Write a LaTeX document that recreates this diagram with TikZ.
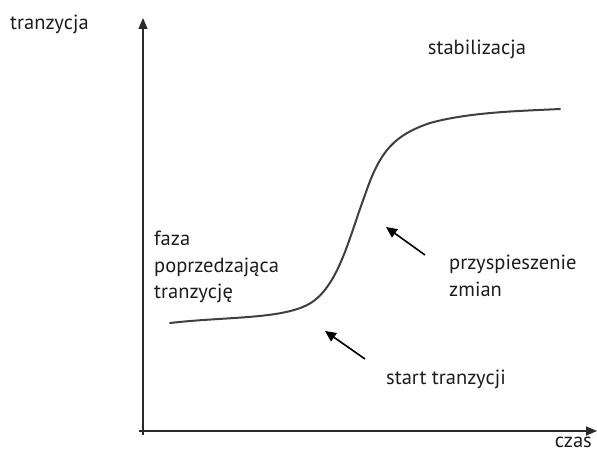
\documentclass[tikz,border=0pt]{standalone}
\usepackage{fontspec}
\setmainfont{PT Sans}
\usetikzlibrary{arrows.meta}
\definecolor{ink}{HTML}{2A2A2A}
\definecolor{txt}{HTML}{1C1C1C}
\tikzset{
  axis/.style={draw=ink, line width=1.5pt, -{Triangle[length=11pt,width=9pt]}},
  pointer/.style={draw=black, line width=1.6pt, -{Triangle[length=11pt,width=10pt]}},
  curve/.style={draw=ink!90, line width=2pt, line cap=round},
  lbl/.style={text=txt, font=\fontsize{20.5}{26.5}\selectfont, inner sep=0pt},
}
\begin{document}
\begin{tikzpicture}[x=1pt,y=-1pt]
\useasboundingbox (0,0) rectangle (597,452);
\coordinate (o) at (143,431);
\coordinate (ytop) at (143,18);
\coordinate (xend) at (597,431);
\draw[axis] (143,435) -- (ytop);
\draw[axis] (139,431) -- (xend);
\draw[curve] (170,323) .. controls (230,316) and (290,320) .. (315,300)
  .. controls (340,280) and (350,235) .. (365,195)
  .. controls (380,150) and (395,135) .. (430,123)
  .. controls (470,112) and (520,111) .. (560,109);
\node[lbl, anchor=west] (ylab) at (10,24) {tranzycja};
\node[lbl, anchor=center] (stab) at (477,49) {stabilizacja};
\node[lbl, anchor=north west, align=left] (faza) at (154,231) {faza\\poprzedzająca\\tranzycję};
\node[lbl, anchor=north west, align=left] (przys) at (449,255) {przyspieszenie\\zmian};
\node[lbl, anchor=west] (start) at (386,379) {start tranzycji};
\node[lbl, anchor=east] (czas) at (592,442) {czas};
\coordinate (a1s) at (425,255);
\coordinate (a1e) at (386,227);
\coordinate (a2s) at (365,359);
\coordinate (a2e) at (325,331);
\draw[pointer] (a1s) -- (a1e);
\draw[pointer] (a2s) -- (a2e);
\end{tikzpicture}
\end{document}
